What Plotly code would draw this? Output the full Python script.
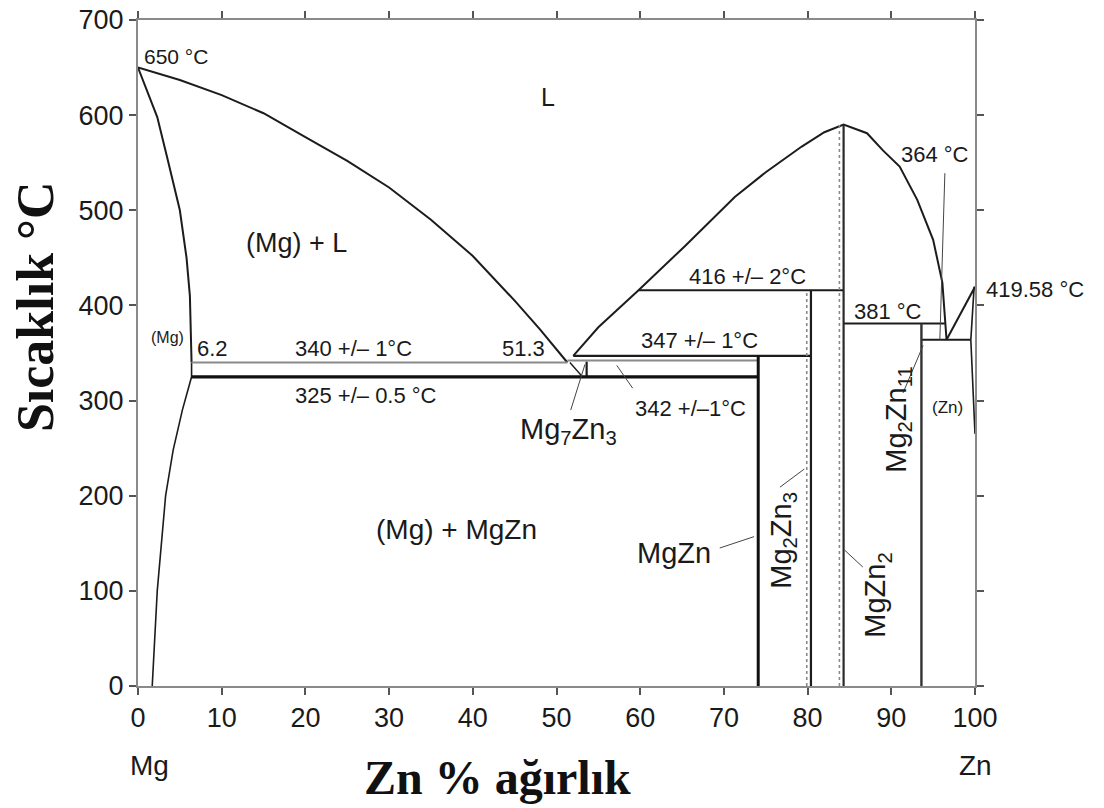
import plotly.graph_objects as go

# ---------------- data ----------------
# Liquidus, Mg side (650 °C -> eutectic 51.3 wt% / 340 °C)
liq_mg_x = [0, 5, 10, 15, 20, 25, 30, 35, 40, 45, 48, 51.3]
liq_mg_t = [650, 637, 621, 602, 577, 552, 524, 490, 452, 405, 375, 340]
# Solidus of (Mg)
sol_mg_x = [0, 1.1, 2.3, 3.5, 5.0, 5.8, 6.2, 6.4]
sol_mg_t = [650, 626, 598, 555, 500, 450, 410, 340]
# Solvus of (Mg)
solv_mg_x = [6.4, 6.4, 5.3, 4.2, 3.3, 2.3, 1.7]
solv_mg_t = [340, 325, 290, 248, 200, 100, 0]
# Liquidus, central dome (347 °C -> MgZn2 maximum -> eutectic 364 °C)
liq_mid_x = [52.0, 55, 59.8, 65.3, 71.3, 75, 79.3, 82, 84.3, 87.1, 89, 91, 93.1, 95, 96.1, 96.4, 96.6]
liq_mid_t = [347, 377, 416, 462, 514, 540, 567, 582, 590, 581, 563, 546, 511, 469, 424, 381, 364]
# Liquidus, Zn side
liq_zn_x = [96.6, 100]
liq_zn_t = [364, 419.58]
# Solidus and solvus of (Zn)
sol_zn_x = [99.5, 99.9]
sol_zn_t = [364, 419.58]
solv_zn_x = [99.5, 99.8, 100]
solv_zn_t = [364, 310, 265]
# Mg7Zn3 small field
mg7_x = [51.6, 53.1]
mg7_t = [340, 325]
mg7_edge_x = [53.6, 53.6]
mg7_edge_t = [341, 325]

# Invariant isotherms
iso_t = [340, 325, 342, 347, 416, 381, 364]
iso_x0 = [6.4, 6.4, 51.3, 52.0, 59.8, 84.3, 93.6]
iso_x1 = [51.3, 74.1, 74.1, 80.4, 84.3, 96.4, 99.5]

# Intermetallic compound lines
comp_names = ["MgZn", "Mg2Zn3", "MgZn2", "Mg2Zn11"]
comp_x = [74.1, 80.4, 84.3, 93.6]
comp_top = [347, 416, 590, 381]

# Axis ticks
x_ticks = [0, 10, 20, 30, 40, 50, 60, 70, 80, 90, 100]
y_ticks = [0, 100, 200, 300, 400, 500, 600, 700]

# ---------------- figure ----------------
fig = go.Figure()
DARK = "#1c1c1c"


def line(x, y, color=DARK, width=2.0, dash="solid"):
    fig.add_trace(go.Scatter(x=x, y=y, mode="lines", hoverinfo="skip",
                             line=dict(color=color, width=width, dash=dash),
                             showlegend=False))


# curves
line(liq_mg_x, liq_mg_t)
line(sol_mg_x, sol_mg_t)
line(solv_mg_x, solv_mg_t, width=1.6)
line(liq_mid_x, liq_mid_t)
line(liq_zn_x, liq_zn_t)
line(sol_zn_x, sol_zn_t, width=1.6)
line(solv_zn_x, solv_zn_t, width=1.6)
line(mg7_x, mg7_t, width=1.4)
line(mg7_edge_x, mg7_edge_t, width=2.2)

# isotherms
iso_style = {
    340: dict(color="#8a8a8a", width=2.0),
    325: dict(color="#111111", width=3.2),
    342: dict(color="#8a8a8a", width=2.0),
    347: dict(color="#1c1c1c", width=2.2),
    416: dict(color="#1c1c1c", width=2.0),
    381: dict(color="#1c1c1c", width=1.8),
    364: dict(color="#1c1c1c", width=2.0),
}
for t, a, b in zip(iso_t, iso_x0, iso_x1):
    s = iso_style[t]
    line([a, b], [t, t], color=s["color"], width=s["width"])

# compound vertical lines (with a faint companion line as in the figure)
comp_style = {
    "MgZn": dict(color="#111111", width=3.0, dash="solid", shadow=None),
    "Mg2Zn3": dict(color="#1c1c1c", width=2.2, dash="solid", shadow=-0.5),
    "MgZn2": dict(color="#2a2a2a", width=2.2, dash="solid", shadow=-0.5),
    "Mg2Zn11": dict(color="#333333", width=2.4, dash="solid", shadow=None),
}
for name, x, top in zip(comp_names, comp_x, comp_top):
    s = comp_style[name]
    if s["shadow"] is not None:
        line([x + s["shadow"], x + s["shadow"]], [0, top], color="#8a8a8a", width=1.6, dash="dot")
    line([x, x], [0, top], color=s["color"], width=s["width"], dash=s["dash"])

# leader lines
leaders = [
    ([96.4, 95.8], [539, 364]),   # 364 °C
    ([91.4, 93.8], [308, 358]),   # Mg2Zn11
    ([69.5, 73.6], [145, 157]),   # MgZn
    ([76.7, 79.6], [209, 228]),   # Mg2Zn3
    ([86.6, 84.4], [125, 143]),   # MgZn2
    ([51.7, 53.4], [290, 338]),   # Mg7Zn3
    ([57.2, 59.1], [337, 313]),   # 342 °C
]
for lx, ly in leaders:
    line(lx, ly, color="#444444", width=1.0)

fig.add_shape(type="line", xref="x", yref="y", x0=100, y0=419.58, x1=101.0, y1=423,
              line=dict(color="#444444", width=1.0))

SANS = "Arial, Liberation Sans, sans-serif"
SERIF = "Times New Roman, Liberation Serif, serif"


def label(text, x, y, size=22, angle=0, xanchor="center", ref="data"):
    kw = {}
    if ref == "paper":
        kw = dict(xref="paper", yref="paper")
    fig.add_annotation(x=x, y=y, text=text, showarrow=False, textangle=angle,
                       xanchor=xanchor, yanchor="middle",
                       font=dict(family=SANS, size=size, color="#1a1a1a"), **kw)


label("650 °C", 0.5, 662, size=21, xanchor="left")
label("L", 49.0, 619, size=25)
label("(Mg) + L", 18.9, 466, size=27)
label("(Mg)", 3.5, 366, size=16)
label("6.2", 8.9, 355, size=22)
label("340 +/– 1°C", 25.8, 355, size=22)
label("51.3", 46.0, 355, size=22)
label("325 +/– 0.5 °C", 27.2, 305, size=22)
label("347 +/– 1°C", 67.1, 363, size=22)
label("416 +/– 2°C", 72.8, 430, size=22)
label("342 +/–1°C", 66.0, 292, size=22)
label("Mg<sub>7</sub>Zn<sub>3</sub>", 51.4, 268, size=29)
label("(Mg) + MgZn", 38.1, 164, size=28)
label("MgZn", 64.0, 140, size=29)
label("Mg<sub>2</sub>Zn<sub>3</sub>", 77.1, 153, size=29, angle=-90)
label("MgZn<sub>2</sub>", 88.3, 95, size=29, angle=-90)
label("381 °C", 89.6, 394, size=22)
label("364 °C", 95.2, 559, size=22)
label("(Zn)", 96.7, 293, size=17)
label("Mg<sub>2</sub>Zn<sub>11</sub>", 90.7, 280, size=29, angle=-90)
# texts outside the plotting area (paper coordinates)
label("419.58 °C", 1.072, 0.596, size=22, ref="paper")
label("Mg", 0.014, -0.119, size=28, ref="paper")
label("Zn", 1.0, -0.119, size=28, ref="paper")

# axis titles
fig.add_annotation(x=0.43, xref="paper", y=-0.137, yref="paper", text="<b>Zn % ağırlık</b>",
                   showarrow=False, xanchor="center", yanchor="middle",
                   font=dict(family=SERIF, size=48, color="#111111"))
fig.add_annotation(x=-0.123, xref="paper", y=0.569, yref="paper", text="<b>Sıcaklık °C</b>",
                   showarrow=False, textangle=-90, xanchor="center", yanchor="middle",
                   font=dict(family=SERIF, size=52, color="#111111"))

axis_common = dict(showline=True, linecolor="#8a8a8a", linewidth=2, mirror="ticks",
                   ticks="outside", ticklen=7, tickwidth=2, tickcolor="#555555",
                   showgrid=False, zeroline=False, ticklabeloverflow="allow",
                   tickfont=dict(family=SANS, size=27, color="#1a1a1a"))
fig.update_xaxes(range=[0, 100], tickvals=x_ticks, ticktext=[str(v) for v in x_ticks], **axis_common)
fig.update_yaxes(range=[0, 700], tickvals=y_ticks, ticktext=[str(v) for v in y_ticks], **axis_common)

fig.update_layout(width=1104, height=808,
                  margin=dict(l=138, r=129, t=20, b=122, autoexpand=False),
                  paper_bgcolor="white", plot_bgcolor="white", showlegend=False)

# remove the default page margin so the figure fills the window exactly
fig.write_html("out.html", config={"displayModeBar": False},
               post_script="document.body.style.margin='0px';")
